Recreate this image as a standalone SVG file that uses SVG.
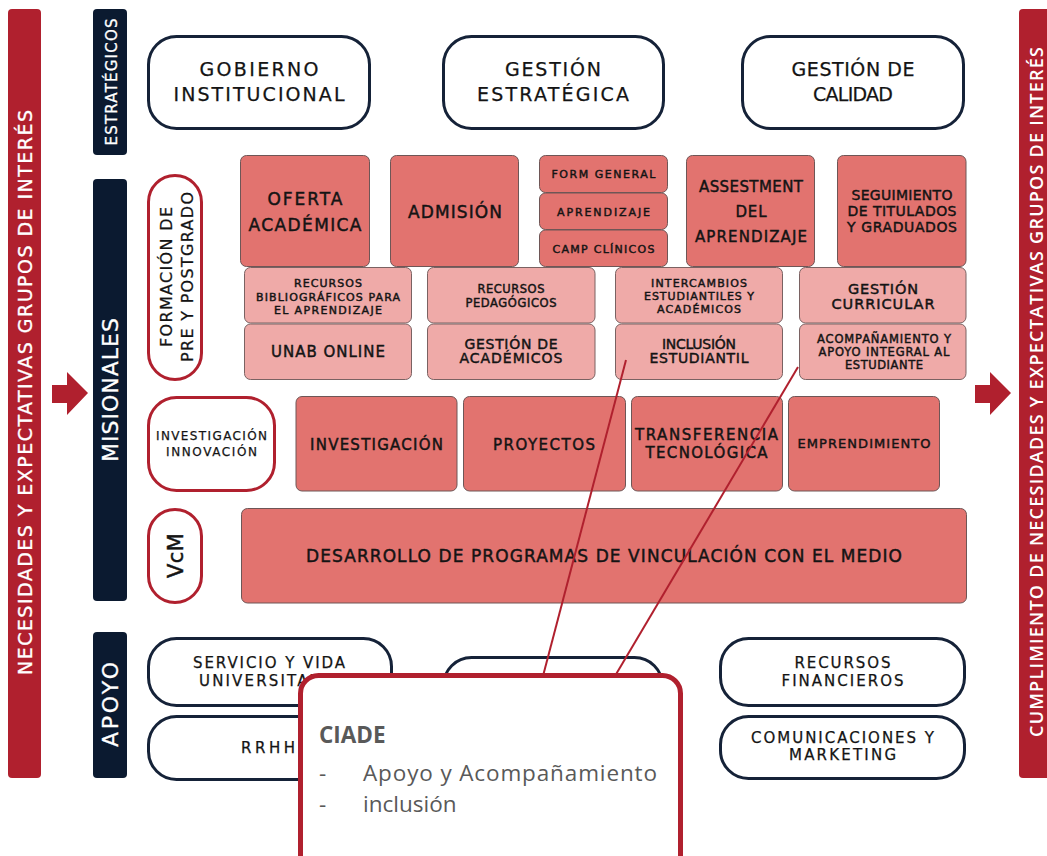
<svg xmlns="http://www.w3.org/2000/svg" width="1047" height="856" viewBox="0 0 1047 856">
<style>
.t{font-family:"DejaVu Sans",sans-serif;fill:#141414;text-anchor:middle;stroke:#141414;stroke-width:0.25}
.b{stroke-width:0.45}
.w{font-family:"DejaVu Sans",sans-serif;fill:#ffffff;text-anchor:middle;stroke:#ffffff;stroke-width:0.3}
.o{font-family:"Open Sans",sans-serif;fill:#ffffff;text-anchor:middle;font-weight:600}
.redbar{fill:#b0202e}
.navy{fill:#0b1a30}
.top{fill:#ffffff;stroke:#152238;stroke-width:3}
.pill{fill:#ffffff;stroke:#b0202e;stroke-width:3}
.dk{fill:#e2736f;stroke:#6e5656;stroke-width:1}
.lt{fill:#efaaa8;stroke:#7a6262;stroke-width:1}
.conn{stroke:#b0202e;stroke-width:2;fill:none}
.ciade{fill:#ffffff;stroke:#b0202e;stroke-width:5}
.ct{font-family:"Open Sans",sans-serif;fill:#595959;font-size:22.5px}
</style>
<rect width="1047" height="856" fill="#ffffff"/>

<g id="bar-left">
<rect class="redbar" x="8" y="9" width="33" height="769" rx="4"/>
<text class="w" font-size="19" textLength="565" lengthAdjust="spacing" transform="translate(32,392.5) rotate(-90)">NECESIDADES Y EXPECTATIVAS GRUPOS DE INTERÉS</text>
</g>
<g id="bar-right">
<rect class="redbar" x="1019" y="9" width="34" height="769" rx="4"/>
<text class="o" font-size="18" textLength="690" lengthAdjust="spacing" transform="translate(1043,392) rotate(-90)">CUMPLIMIENTO DE NECESIDADES Y EXPECTATIVAS GRUPOS DE INTERÉS</text>
</g>
<g id="arrow-left"><polygon class="redbar" points="52,385 67,385 67,372 88,393 67,415 67,403 52,403"/></g>
<g id="arrow-right"><polygon class="redbar" points="975,385 990,385 990,372 1011,393 990,415 990,403 975,403"/></g>

<g id="lbl-estrategicos">
<rect class="navy" x="93" y="9" width="34" height="146" rx="4"/>
<text class="w" font-size="15" textLength="127" lengthAdjust="spacing" transform="translate(117,82) rotate(-90)">ESTRATÉGICOS</text>
</g>
<g id="lbl-misionales">
<rect class="navy" x="93" y="179" width="34" height="422" rx="4"/>
<text class="w" font-size="22" textLength="144" lengthAdjust="spacing" transform="translate(118,390) rotate(-90)">MISIONALES</text>
</g>
<g id="lbl-apoyo">
<rect class="navy" x="93" y="632" width="34" height="146" rx="4"/>
<text class="w" font-size="22" textLength="85" lengthAdjust="spacing" transform="translate(118,704.5) rotate(-90)">APOYO</text>
</g>

<g id="n-gobierno">
<rect class="top" x="148.5" y="36.5" width="221" height="92" rx="28"/>
<text class="t" font-size="19" x="259" y="76" textLength="119" lengthAdjust="spacing">GOBIERNO</text>
<text class="t" font-size="19" x="259" y="101" textLength="171" lengthAdjust="spacing">INSTITUCIONAL</text>
</g>
<g id="n-gestion-estrategica">
<rect class="top" x="443.5" y="36.5" width="220" height="92" rx="28"/>
<text class="t" font-size="19" x="553" y="76" textLength="96" lengthAdjust="spacing">GESTIÓN</text>
<text class="t" font-size="19" x="553" y="101" textLength="152" lengthAdjust="spacing">ESTRATÉGICA</text>
</g>
<g id="n-gestion-calidad">
<rect class="top" x="742.5" y="36.5" width="221" height="92" rx="28"/>
<text class="t" font-size="19" x="853" y="76" textLength="123" lengthAdjust="spacing">GESTIÓN DE</text>
<text class="t" font-size="19" x="853" y="101" textLength="80" lengthAdjust="spacing">CALIDAD</text>
</g>

<g id="p-formacion">
<rect class="pill" x="148.5" y="175.5" width="53" height="204" rx="26.5"/>
<text class="t" font-size="16" textLength="140" lengthAdjust="spacing" transform="translate(172,277) rotate(-90)">FORMACIÓN DE</text>
<text class="t" font-size="16" textLength="170" lengthAdjust="spacing" transform="translate(193,277) rotate(-90)">PRE Y POSTGRADO</text>
</g>
<g id="p-investigacion">
<rect class="pill" x="148.5" y="397.5" width="126" height="93" rx="28"/>
<text class="t" font-size="12" x="211.5" y="440" textLength="111" lengthAdjust="spacing">INVESTIGACIÓN</text>
<text class="t" font-size="12" x="211.5" y="456" textLength="91" lengthAdjust="spacing">INNOVACIÓN</text>
</g>
<g id="p-vcm">
<rect class="pill" x="148.5" y="509.5" width="53" height="93" rx="26.5"/>
<text class="t b" font-size="21" textLength="45" lengthAdjust="spacing" transform="translate(183,555.5) rotate(-90)">VcM</text>
</g>

<g id="b-oferta">
<rect class="dk" x="240.5" y="155.5" width="129" height="111" rx="6"/>
<text class="t b" font-size="17" x="305" y="205" textLength="75" lengthAdjust="spacing">OFERTA</text>
<text class="t b" font-size="17" x="305" y="231" textLength="113" lengthAdjust="spacing">ACADÉMICA</text>
</g>
<g id="b-admision">
<rect class="dk" x="390.5" y="155.5" width="128" height="111" rx="6"/>
<text class="t b" font-size="17" x="455" y="218" textLength="94" lengthAdjust="spacing">ADMISIÓN</text>
</g>
<g id="b-form-general">
<rect class="dk" x="539.5" y="155.5" width="128" height="37" rx="6"/>
<text class="t b" font-size="11" x="603.5" y="178" textLength="104" lengthAdjust="spacing">FORM GENERAL</text>
</g>
<g id="b-aprendizaje">
<rect class="dk" x="539.5" y="193" width="128" height="36.5" rx="6"/>
<text class="t b" font-size="11" x="603.5" y="216" textLength="93" lengthAdjust="spacing">APRENDIZAJE</text>
</g>
<g id="b-camp">
<rect class="dk" x="539.5" y="230" width="128" height="36.5" rx="6"/>
<text class="t b" font-size="11" x="603.5" y="253" textLength="102" lengthAdjust="spacing">CAMP CLÍNICOS</text>
</g>
<g id="b-assestment">
<rect class="dk" x="686.5" y="155.5" width="128" height="111" rx="6"/>
<text class="t b" font-size="15" x="751" y="192" textLength="104" lengthAdjust="spacing">ASSESTMENT</text>
<text class="t b" font-size="15" x="751" y="217" textLength="31" lengthAdjust="spacing">DEL</text>
<text class="t b" font-size="15" x="751" y="242" textLength="112" lengthAdjust="spacing">APRENDIZAJE</text>
</g>
<g id="b-seguimiento">
<rect class="dk" x="837.5" y="155.5" width="128.5" height="111" rx="6"/>
<text class="t b" font-size="14" x="902" y="200" textLength="101" lengthAdjust="spacing">SEGUIMIENTO</text>
<text class="t b" font-size="14" x="902" y="216" textLength="109" lengthAdjust="spacing">DE TITULADOS</text>
<text class="t b" font-size="14" x="902" y="232" textLength="110" lengthAdjust="spacing">Y GRADUADOS</text>
</g>

<g id="b-recursos-bib">
<rect class="lt" x="244.5" y="267.5" width="167" height="55.5" rx="6"/>
<text class="t b" font-size="11" x="328" y="287" textLength="68" lengthAdjust="spacing">RECURSOS</text>
<text class="t b" font-size="11" x="328" y="300.5" textLength="144" lengthAdjust="spacing">BIBLIOGRÁFICOS PARA</text>
<text class="t b" font-size="11" x="328" y="314" textLength="108" lengthAdjust="spacing">EL APRENDIZAJE</text>
</g>
<g id="b-recursos-ped">
<rect class="lt" x="427.5" y="267.5" width="167.5" height="55.5" rx="6"/>
<text class="t b" font-size="11.5" x="511" y="293" textLength="67" lengthAdjust="spacing">RECURSOS</text>
<text class="t b" font-size="11.5" x="511" y="307" textLength="91" lengthAdjust="spacing">PEDAGÓGICOS</text>
</g>
<g id="b-intercambios">
<rect class="lt" x="615.5" y="267.5" width="167" height="55.5" rx="6"/>
<text class="t b" font-size="11" x="699" y="287" textLength="96" lengthAdjust="spacing">INTERCAMBIOS</text>
<text class="t b" font-size="11" x="699" y="300" textLength="110" lengthAdjust="spacing">ESTUDIANTILES Y</text>
<text class="t b" font-size="11" x="699" y="313" textLength="84" lengthAdjust="spacing">ACADÉMICOS</text>
</g>
<g id="b-gestion-curricular">
<rect class="lt" x="799.5" y="267.5" width="166.5" height="55.5" rx="6"/>
<text class="t b" font-size="14.5" x="883" y="294" textLength="70" lengthAdjust="spacing">GESTIÓN</text>
<text class="t b" font-size="14.5" x="883" y="308.5" textLength="103" lengthAdjust="spacing">CURRICULAR</text>
</g>

<g id="b-unab">
<rect class="lt" x="244.5" y="324" width="167" height="55.5" rx="6"/>
<text class="t b" font-size="15" x="328" y="357" textLength="114" lengthAdjust="spacing">UNAB ONLINE</text>
</g>
<g id="b-gestion-academicos">
<rect class="lt" x="427.5" y="324" width="167.5" height="55.5" rx="6"/>
<text class="t b" font-size="14" x="511" y="349" textLength="93" lengthAdjust="spacing">GESTIÓN DE</text>
<text class="t b" font-size="14" x="511" y="363" textLength="103" lengthAdjust="spacing">ACADÉMICOS</text>
</g>
<g id="b-inclusion">
<rect class="lt" x="615.5" y="324" width="167" height="55.5" rx="6"/>
<text class="t b" font-size="14" x="699" y="349" textLength="74" lengthAdjust="spacing">INCLUSIÓN</text>
<text class="t b" font-size="14" x="699" y="363" textLength="99" lengthAdjust="spacing">ESTUDIANTIL</text>
</g>
<g id="b-acompanamiento">
<rect class="lt" x="799.5" y="324" width="166.5" height="55.5" rx="6"/>
<text class="t b" font-size="11.5" x="884" y="343" textLength="134" lengthAdjust="spacing">ACOMPAÑAMIENTO Y</text>
<text class="t b" font-size="11.5" x="884" y="356" textLength="131" lengthAdjust="spacing">APOYO INTEGRAL AL</text>
<text class="t b" font-size="11.5" x="884" y="369" textLength="78" lengthAdjust="spacing">ESTUDIANTE</text>
</g>

<g id="b-investigacion">
<rect class="dk" x="296" y="396.5" width="161" height="94.5" rx="6"/>
<text class="t b" font-size="15" x="376.5" y="450" textLength="133" lengthAdjust="spacing">INVESTIGACIÓN</text>
</g>
<g id="b-proyectos">
<rect class="dk" x="463.5" y="396.5" width="162" height="94.5" rx="6"/>
<text class="t b" font-size="15" x="544" y="450" textLength="102" lengthAdjust="spacing">PROYECTOS</text>
</g>
<g id="b-transferencia">
<rect class="dk" x="631.5" y="396.5" width="151" height="94.5" rx="6"/>
<text class="t b" font-size="15" x="706.5" y="440" textLength="143" lengthAdjust="spacing">TRANSFERENCIA</text>
<text class="t b" font-size="15" x="706.5" y="458" textLength="122" lengthAdjust="spacing">TECNOLÓGICA</text>
</g>
<g id="b-emprendimiento">
<rect class="dk" x="788.5" y="396.5" width="151" height="94.5" rx="6"/>
<text class="t b" font-size="13" x="864" y="448" textLength="133" lengthAdjust="spacing">EMPRENDIMIENTO</text>
</g>

<g id="b-vcm">
<rect class="dk" x="241.5" y="508.5" width="725" height="94.5" rx="6"/>
<text class="t b" font-size="17" x="604" y="562" textLength="596" lengthAdjust="spacing">DESARROLLO DE PROGRAMAS DE VINCULACIÓN CON EL MEDIO</text>
</g>

<g id="a-servicio">
<rect class="top" x="148.5" y="638.5" width="243" height="67" rx="28"/>
<text class="t" font-size="15" x="269" y="668" textLength="152" lengthAdjust="spacing">SERVICIO Y VIDA</text>
<text class="t" font-size="15" x="269" y="686" textLength="140" lengthAdjust="spacing">UNIVERSITARIA</text>
</g>
<g id="a-rrhh">
<rect class="top" x="148.5" y="716.5" width="243" height="63" rx="28"/>
<text class="t" font-size="15" x="268" y="753" textLength="54" lengthAdjust="spacing">RRHH</text>
</g>
<g id="a-middle">
<rect class="top" x="443.5" y="657.5" width="219" height="67" rx="28"/>
</g>
<g id="a-recursos-fin">
<rect class="top" x="720.5" y="638.5" width="244" height="67" rx="28"/>
<text class="t" font-size="15" x="842.5" y="668" textLength="96" lengthAdjust="spacing">RECURSOS</text>
<text class="t" font-size="15" x="842.5" y="686" textLength="122" lengthAdjust="spacing">FINANCIEROS</text>
</g>
<g id="a-comunicaciones">
<rect class="top" x="720.5" y="716.5" width="244" height="62" rx="28"/>
<text class="t" font-size="15" x="842.5" y="743" textLength="183" lengthAdjust="spacing">COMUNICACIONES Y</text>
<text class="t" font-size="15" x="842.5" y="760" textLength="107" lengthAdjust="spacing">MARKETING</text>
</g>

<g id="connectors">
<line class="conn" x1="626" y1="360" x2="543" y2="676"/>
<line class="conn" x1="798" y1="367" x2="615" y2="676"/>
</g>

<g id="n-ciade">
<rect class="ciade" x="300.5" y="675.5" width="380" height="210" rx="18"/>
<text class="ct" x="319" y="743" font-weight="bold" font-size="24">CIADE</text>
<text class="ct" x="319" y="781">-</text>
<text class="ct" x="363" y="781" textLength="294" lengthAdjust="spacing">Apoyo y Acompañamiento</text>
<text class="ct" x="319" y="812">-</text>
<text class="ct" x="363" y="812">inclusión</text>
</g>
</svg>
